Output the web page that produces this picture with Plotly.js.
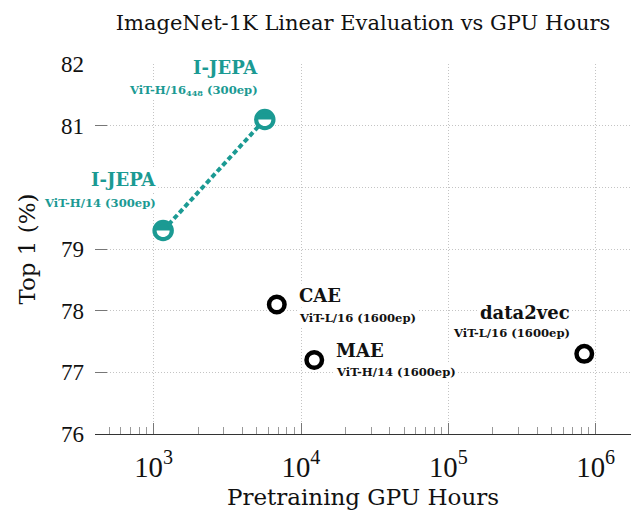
<!DOCTYPE html>
<html>
<head>
<meta charset="utf-8">
<script src="https://cdn.plot.ly/plotly-3.0.1.min.js"></script>
<style>
  html, body { margin: 0; padding: 0; overflow: hidden; background: #fff; }
  #chart { width: 631px; height: 510px; }
</style>
</head>
<body>
<div id="chart"></div>
<script>
// ---- data ----
const ijepaNames   = ['I-JEPA', 'I-JEPA'];
const ijepaModels  = ['ViT-H/14 (300ep)', 'ViT-H/16<sub>448</sub> (300ep)'];
const ijepaHours   = [1160, 5680];
const ijepaTop1    = [79.3, 81.1];

const otherNames   = ['CAE', 'MAE', 'data2vec'];
const otherModels  = ['ViT-L/16 (1600ep)', 'ViT-H/14 (1600ep)', 'ViT-L/16 (1600ep)'];
const otherHours   = [6850, 12300, 836000];
const otherTop1    = [78.1, 77.2, 77.3];

const yTickVals  = [76, 77, 78, 79, 81, 82];   // "80" is hidden behind a label box in the reference

// ---- styles ----
const TEAL = '#1b9a93';
const SERIF = '"DejaVu Serif", "Liberation Serif", serif';
const NUMF = '"Liberation Serif", serif';
const GRID = '#c4c4c4';

// label offsets (px) relative to each point
const ijepaLabelStyle = [
  {dx: -5, ty: 51, sy: 28, anchor: 'right'},
  {dx: -5, ty: 52, sy: 29, anchor: 'right'}
];
const otherLabelStyle = [
  {dx: 20, ty: 9, sy: -13, anchor: 'left'},
  {dx: 20, ty: 10, sy: -12, anchor: 'left'},
  {dx: -12, ty: 41, sy: 21, anchor: 'right'}
];

const traces = [
  {
    x: ijepaHours, y: ijepaTop1, type: 'scatter', mode: 'lines+markers',
    line: {color: TEAL, width: 4, dash: '5px,3px'},
    marker: {symbol: 'circle', size: 17, color: TEAL, line: {color: TEAL, width: 4.5}},
    hoverinfo: 'skip', showlegend: false
  },
  {
    x: otherHours, y: otherTop1, type: 'scatter', mode: 'markers',
    marker: {symbol: 'circle', size: 15.5, color: '#ffffff', line: {color: '#000000', width: 4.5}},
    hoverinfo: 'skip', showlegend: false
  }
];

// white lower half-disc inside the I-JEPA markers (half-filled mark)
const r = 6.5, k = r * 4 / 3;
const halfPath = `M ${-r},0 C ${-r},${-k} ${r},${-k} ${r},0 Z`;
const shapes = ijepaHours.map((h, i) => ({
  type: 'path', xref: 'x', yref: 'y', xsizemode: 'pixel', ysizemode: 'pixel',
  xanchor: h, yanchor: ijepaTop1[i], path: halfPath,
  fillcolor: '#ffffff', line: {width: 0}, layer: 'above'
}));

const annotations = [];
function addLabel(h, v, name, model, st, color) {
  annotations.push({
    x: Math.log10(h), y: v, xref: 'x', yref: 'y', showarrow: false,
    text: name, xanchor: st.anchor, yanchor: 'middle',
    xshift: st.dx, yshift: st.ty, bgcolor: '#ffffff', borderpad: 1,
    font: {family: SERIF, size: 18, color: color, weight: 'bold'}
  });
  annotations.push({
    x: Math.log10(h), y: v, xref: 'x', yref: 'y', showarrow: false,
    text: model, xanchor: st.anchor, yanchor: 'middle',
    xshift: st.dx, yshift: st.sy, bgcolor: '#ffffff', borderpad: 1,
    font: {family: SERIF, size: 11.6, color: color, weight: 'bold'}
  });
}
ijepaHours.forEach((h, i) => addLabel(h, ijepaTop1[i], ijepaNames[i], ijepaModels[i], ijepaLabelStyle[i], TEAL));
otherHours.forEach((h, i) => addLabel(h, otherTop1[i], otherNames[i], otherModels[i], otherLabelStyle[i], '#111111'));

const layout = {
  width: 631, height: 510,
  margin: {l: 95, r: 0, t: 64, b: 76, pad: 0},
  paper_bgcolor: '#ffffff', plot_bgcolor: '#ffffff',
  title: {
    text: 'ImageNet-1K Linear Evaluation vs GPU Hours',
    font: {family: SERIF, size: 21, color: '#111111'},
    x: 363 / 631, xanchor: 'center', xref: 'container',
    y: 1 - 23 / 510, yanchor: 'middle', yref: 'container'
  },
  xaxis: {
    type: 'log', range: [Math.log10(400), 6.2394],
    dtick: 1, tick0: 0, exponentformat: 'power',
    showline: true, linecolor: '#333333', linewidth: 1.2,
    ticks: 'inside', ticklen: 11, tickcolor: '#777777', tickwidth: 1,
    minor: {ticks: 'inside', ticklen: 7, tickcolor: '#999999', tickwidth: 1, dtick: 'D1', showgrid: false},
    showgrid: true, gridcolor: GRID, griddash: '1px,2px', gridwidth: 1,
    zeroline: false,
    tickfont: {family: NUMF, size: 23, color: '#111111'},
    ticklabelstandoff: 8,
    title: {text: 'Pretraining GPU Hours', font: {family: SERIF, size: 23, color: '#111111'}, standoff: 10}
  },
  yaxis: {
    range: [76, 82], tickmode: 'array', tickvals: yTickVals,
    showline: false, zeroline: false,
    ticks: 'inside', ticklen: 12, tickcolor: '#777777', tickwidth: 1,
    showgrid: false,
    minor: {dtick: 1, tick0: 0, ticks: '', showgrid: true, gridcolor: GRID, griddash: '1px,2px', gridwidth: 1},
    tickfont: {family: NUMF, size: 23, color: '#111111'},
    ticklabelstandoff: 10,
    title: {text: 'Top 1 (%)', font: {family: SERIF, size: 23, color: '#111111'}, standoff: 18}
  },
  shapes: shapes,
  annotations: annotations,
  showlegend: false
};

Plotly.newPlot('chart', traces, layout, {displayModeBar: false, staticPlot: true});
</script>
</body>
</html>
